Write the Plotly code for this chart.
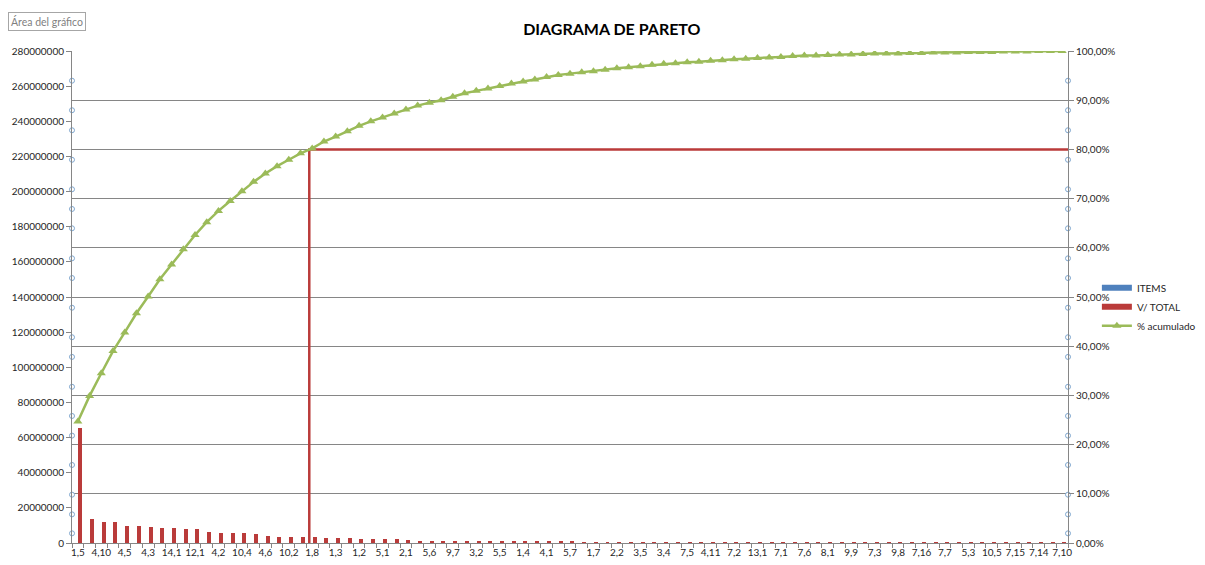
import plotly.graph_objects as go

# Excel-like palette
RED = "#BA3B3A"
GREEN = "#9BBB59"
BLUE = "#4F81BD"
AXIS = "#868686"
TEXT = "#262626"
FONT = "Lato, Open Sans, sans-serif"

# visible category labels (Excel shows every other item)
LABELS = [
    "1,5", "4,10", "4,5", "4,3", "14,1", "12,1", "4,2", "10,4", "4,6", "10,2",
    "1,8", "1,3", "1,2", "5,1", "2,1", "5,6", "9,7", "3,2", "5,5", "1,4",
    "4,1", "5,7", "1,7", "2,2", "3,5", "3,4", "7,5", "4,11", "7,2", "13,1",
    "7,1", "7,6", "8,1", "9,9", "7,3", "9,8", "7,16", "7,7", "5,3", "10,5",
    "7,15", "7,14", "7,10",
]

# V/ TOTAL per item, in millions
V_TOTAL_M = [
    65.6, 13.7, 11.8, 11.8, 9.9, 9.9, 9.1, 8.7, 8.3, 7.8,
    7.8, 6.5, 5.5, 5.5, 5.5, 5.1, 4.2, 3.4, 3.4, 3.4,
    3.4, 2.9, 2.8, 2.8, 2.4, 2.4, 2.0, 2.0, 1.9, 1.4,
    1.4, 1.3, 1.3, 1.3, 1.2, 1.0, 0.9, 0.9, 0.9, 0.7,
    0.6, 0.6, 0.6, 0.5, 0.5, 0.5, 0.5, 0.5, 0.5, 0.4,
    0.3, 0.3, 0.3, 0.3, 0.3, 0.25, 0.25, 0.25, 0.2, 0.2,
    0.2, 0.2, 0.2, 0.15, 0.15, 0.15, 0.15, 0.1, 0.1, 0.1,
    0.1, 0.1, 0.1, 0.08, 0.08, 0.08, 0.06, 0.06, 0.05, 0.05,
    0.04, 0.04, 0.03, 0.03, 0.02,
]

# % acumulado
CUM_PCT = [
    24.7, 29.9, 34.5, 39.0, 42.8, 46.7, 50.1, 53.6, 56.6, 59.7,
    62.6, 65.2, 67.5, 69.5, 71.5, 73.4, 75.1, 76.6, 77.9, 79.2,
    80.2, 81.6, 82.6, 83.7, 84.8, 85.7, 86.5, 87.3, 88.1, 88.9,
    89.5, 90.0, 90.7, 91.4, 91.9, 92.4, 92.9, 93.4, 93.8, 94.2,
    94.7, 95.1, 95.4, 95.7, 95.9, 96.2, 96.5, 96.7, 96.9, 97.2,
    97.4, 97.5, 97.7, 97.8, 98.0, 98.1, 98.3, 98.4, 98.6, 98.7,
    98.8, 99.0, 99.1, 99.1, 99.2, 99.3, 99.3, 99.4, 99.5, 99.5,
    99.5, 99.6, 99.6, 99.7, 99.7, 99.7, 99.8, 99.8, 99.8, 99.9,
    99.9, 99.9, 100.0, 100.0, 100.0,
]

# 80 % cut (Pareto line) and the item where it is reached
CUTOFF_PCT = 80
CUTOFF_ITEM = 20

# selection handles seen on both value axes (left axis units, millions)
HANDLES_M = [263.1, 246.3, 234.9, 218.1, 201.3, 190.1, 179.1, 162.0, 150.8,
             133.9, 117.1, 105.9, 88.9, 72.3, 61.1, 44.4, 27.5, 16.3, 5.5]

x = list(range(len(V_TOTAL_M)))
n_items = len(x)

fig = go.Figure()

fig.add_trace(go.Bar(
    x=x, y=[v * 1e6 for v in V_TOTAL_M], name="V/ TOTAL",
    marker=dict(color=RED, line=dict(width=0)),
    width=0.34, offset=0.03, showlegend=False,
))

fig.add_trace(go.Scatter(
    x=[CUTOFF_ITEM - 0.25, CUTOFF_ITEM - 0.25, n_items - 0.5],
    y=[0, CUTOFF_PCT, CUTOFF_PCT], yaxis="y2", mode="lines",
    line=dict(color=RED, width=2.5), showlegend=False, hoverinfo="skip",
))

fig.add_trace(go.Scatter(
    x=x, y=CUM_PCT, yaxis="y2", mode="lines+markers", name="% acumulado",
    line=dict(color=GREEN, width=2.5),
    marker=dict(symbol="triangle-up", size=8, color=GREEN),
    legendrank=3,
))

# legend-only entries drawn as flat bars like Excel's
fig.add_trace(go.Scatter(x=[None], y=[None], mode="lines", name="ITEMS",
                         line=dict(color=BLUE, width=6), legendrank=1))
fig.add_trace(go.Scatter(x=[None], y=[None], mode="lines", name="V/ TOTAL",
                         line=dict(color=RED, width=6), legendrank=2))

hy = [h * 1e6 for h in HANDLES_M]
fig.add_trace(go.Scatter(
    x=[0] * len(hy) + [1] * len(hy), y=hy + hy, xaxis="x2", mode="markers",
    marker=dict(symbol="circle", size=5, color="white",
                line=dict(color="#7FA7CF", width=1)),
    cliponaxis=False, showlegend=False, hoverinfo="skip",
))

# page body adds an 8px offset, so the figure is sized/margined for it
fig.update_layout(
    width=1197, height=557,
    margin=dict(l=64, r=137, t=43, b=22, autoexpand=False),
    paper_bgcolor="white",
    plot_bgcolor="white",
    separators=",.",
    font=dict(family=FONT, size=10, color=TEXT),
    title=dict(text="<b>DIAGRAMA DE PARETO</b>", x=0.542, xref="paper",
               xanchor="center", y=1 - 21 / 557, yanchor="middle",
               font=dict(family=FONT, size=16, color="#000000")),
    bargap=0,
    xaxis=dict(
        range=[-0.5, n_items - 0.5], tickvals=x[::2], ticktext=LABELS,
        ticks="", showline=True, linecolor=AXIS, showgrid=False,
        zeroline=False, tickfont=dict(size=10),
        minor=dict(ticks="outside", ticklen=4, tickcolor=AXIS,
                   tick0=-0.5, dtick=1),
    ),
    xaxis2=dict(overlaying="x", range=[0, 1], visible=False),
    yaxis=dict(
        range=[0, 280e6], dtick=20e6, tickformat="d", ticks="outside",
        ticklen=5, tickcolor=AXIS, showline=True, linecolor=AXIS,
        showgrid=False, zeroline=False,
    ),
    yaxis2=dict(
        overlaying="y", side="right", anchor="x", range=[0, 100], dtick=10,
        tickformat=".2f", ticksuffix="%", ticks="outside", ticklen=5,
        tickcolor=AXIS, showline=True, linecolor=AXIS,
        showgrid=True, gridcolor=AXIS, gridwidth=1, zeroline=False,
    ),
    legend=dict(x=1.029, xanchor="left", y=0.48, yanchor="middle",
                font=dict(size=10), bgcolor="rgba(0,0,0,0)",
                tracegroupgap=0),
    annotations=[dict(text="Área del gráfico", xref="paper", yref="paper",
                      x=-0.0643, y=1.060, xanchor="left", yanchor="middle",
                      showarrow=False, font=dict(size=10.5, color="#7F7F7F"),
                      bgcolor="white", bordercolor="#A6A6A6", borderwidth=1,
                      borderpad=2)],
)

fig.write_html("out.html")
